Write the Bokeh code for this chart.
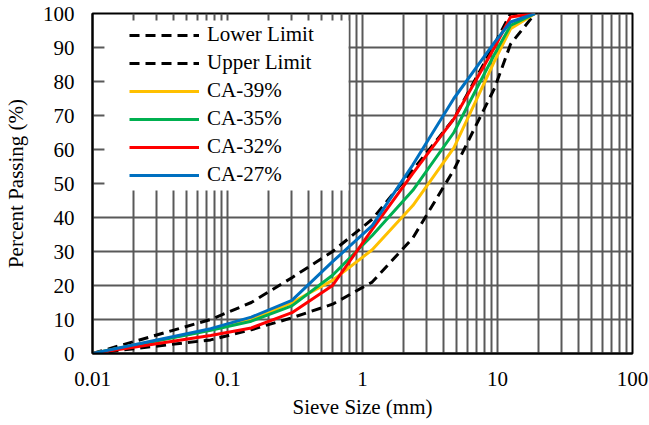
from bokeh.plotting import figure
from bokeh.models import Range1d, FixedTicker, CustomJSTickFormatter, BoxAnnotation
from bokeh.embed import file_html
from bokeh.resources import INLINE

# ---- data ----
sieve_mm = [0.01, 0.075, 0.15, 0.3, 0.6, 1.18, 2.36, 4.75, 9.5, 12.5, 19]
lower_limit = [0, 4, 7, 10.5, 14.5, 21, 34, 54, 78, 91, 100]
upper_limit = [0, 10, 15, 22.3, 30, 39.5, 54, 69, 91, 100, 100]
ca_39 = [0, 7, 10, 15, 21.5, 30.5, 43.5, 60.5, 86, 95.5, 100]
ca_35 = [0, 6.8, 9.5, 14, 23, 34.7, 48, 65, 88, 96.5, 100]
ca_32 = [0, 5.3, 7.5, 12, 20, 36.5, 53, 69, 90, 99, 100]
ca_27 = [0, 7.3, 10.7, 15.6, 27, 37.6, 55.5, 75, 91.5, 97.5, 100]
x_major = [0.01, 0.1, 1, 10, 100]
y_major = [0, 10, 20, 30, 40, 50, 60, 70, 80, 90, 100]

FONT = "'Liberation Serif', 'Times New Roman', serif"
GRID = "#595959"

p = figure(width=649, height=425, x_axis_type="log",
           x_range=Range1d(0.01, 100), y_range=Range1d(0, 100),
           output_backend="svg", toolbar_location=None,
           min_border_left=90, min_border_right=17,
           min_border_top=13, min_border_bottom=72)

# grid: every 1..9 per decade on x, every 10 on y
x_grid = [k * 10.0 ** e for e in range(-2, 2) for k in range(1, 10)] + [100]
p.xgrid.ticker = FixedTicker(ticks=x_grid)
p.ygrid.ticker = FixedTicker(ticks=y_major)
for g in (p.xgrid, p.ygrid):
    g.grid_line_color = GRID
    g.grid_line_width = 2

p.outline_line_color = "black"
p.outline_line_width = 2

p.xaxis.ticker = FixedTicker(ticks=x_major)
p.xaxis.formatter = CustomJSTickFormatter(code="return tick.toString();")
p.yaxis.ticker = FixedTicker(ticks=y_major)
for ax in (p.xaxis, p.yaxis):
    ax.major_tick_out = 0
    ax.major_tick_in = 0
    ax.minor_tick_line_color = None
    ax.axis_line_color = "black"
    ax.axis_line_width = 2
    ax.major_label_text_font = FONT
    ax.major_label_text_font_size = "21px"
    ax.major_label_text_color = "black"
    ax.axis_label_text_font = FONT
    ax.axis_label_text_font_size = "21px"
    ax.axis_label_text_font_style = "normal"
    ax.axis_label_text_color = "black"

p.xaxis.axis_label = "Sieve Size (mm)"
p.yaxis.axis_label = "Percent Passing (%)"
p.xaxis.major_label_standoff = 18
p.xaxis.axis_label_standoff = 6
p.yaxis.major_label_standoff = 18
p.yaxis.axis_label_standoff = 12

# white legend background box (pixel geometry converted to data space)
frame_left, frame_w, frame_top, frame_h = 90, 542, 13, 340
px_per_dec = frame_w / 4.0
def px_to_x(px):
    return 10 ** (-2 + (px - frame_left) / px_per_dec)
def py_to_y(py):
    return 100 - (py - frame_top) * 100.0 / frame_h
box = BoxAnnotation(left=px_to_x(102), right=px_to_x(347),
                    top=py_to_y(20), bottom=py_to_y(190),
                    fill_color="white", fill_alpha=1.0, line_color=None)
p.add_layout(box)

p.line(sieve_mm, lower_limit, line_color="black", line_width=3,
       line_dash="10 6", legend_label="Lower Limit")
p.line(sieve_mm, upper_limit, line_color="black", line_width=3,
       line_dash="10 6", legend_label="Upper Limit")
p.line(sieve_mm, ca_39, line_color="#FFC000", line_width=3, legend_label="CA-39%")
p.line(sieve_mm, ca_35, line_color="#00B050", line_width=3, legend_label="CA-35%")
p.line(sieve_mm, ca_32, line_color="#FF0000", line_width=3, legend_label="CA-32%")
p.line(sieve_mm, ca_27, line_color="#0070C0", line_width=3, legend_label="CA-27%")

lg = p.legend[0]
lg.location = (37, 166)
lg.margin = 0
lg.padding = 3
lg.spacing = 3
lg.glyph_width = 70
lg.glyph_height = 20
lg.label_height = 20
lg.label_standoff = 8
lg.label_text_font = FONT
lg.label_text_font_size = "21px"
lg.label_text_color = "black"
lg.border_line_color = None
lg.background_fill_alpha = 0

open("out.html", "w").write(file_html(p, INLINE))
